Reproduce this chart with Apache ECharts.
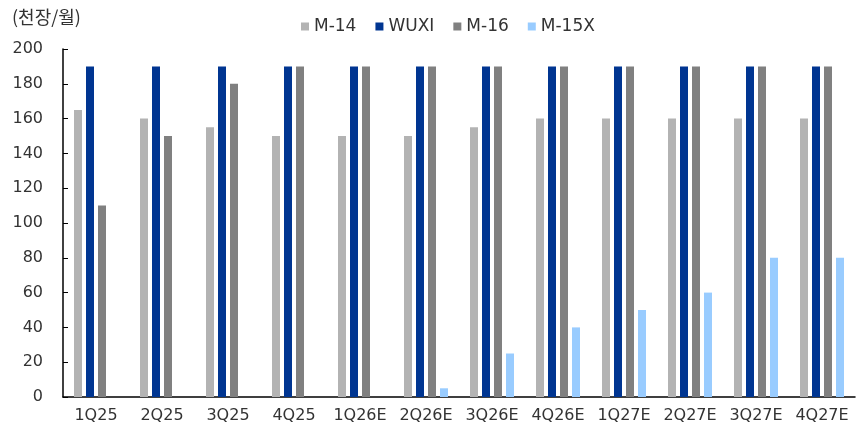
<!DOCTYPE html>
<html>
<head>
<meta charset="utf-8">
<script src="https://cdn.jsdelivr.net/npm/echarts@6/dist/echarts.min.js"></script>
<style>
  html, body { margin: 0; padding: 0; background: #fff; }
  #chart { width: 857px; height: 428px; }
</style>
</head>
<body>
<div id="chart"></div>
<script>
// Quarterly capacity by fab (thousand wafers per month)
const categories = ['1Q25', '2Q25', '3Q25', '4Q25', '1Q26E', '2Q26E', '3Q26E', '4Q26E', '1Q27E', '2Q27E', '3Q27E', '4Q27E'];
const m14 = [165, 160, 155, 150, 150, 150, 155, 160, 160, 160, 160, 160];
const wuxi = [190, 190, 190, 190, 190, 190, 190, 190, 190, 190, 190, 190];
const m16 = [110, 150, 180, 190, 190, 190, 190, 190, 190, 190, 190, 190];
const m15x = [0, 0, 0, 0, 0, 5, 25, 40, 50, 60, 80, 80];
const yTicks = [0, 20, 40, 60, 80, 100, 120, 140, 160, 180, 200];

const numFont = 'DejaVu Sans';
const chart = echarts.init(document.getElementById('chart'));

function barSeries(name, data, color) {
  return {
    name: name,
    type: 'bar',
    data: data,
    barWidth: 8,
    barGap: '50%',
    itemStyle: { color: color },
    emphasis: { disabled: true }
  };
}

chart.setOption({
  animation: false,
  textStyle: { fontFamily: numFont },
  title: {
    text: '(천장/월)',
    left: 7,
    top: 3,
    textStyle: { fontFamily: 'Noto Sans CJK KR', fontSize: 18, fontWeight: 'normal', color: '#333' }
  },
  legend: {
    top: 13,
    left: 296,
    itemWidth: 8,
    itemHeight: 8,
    itemGap: 19,
    icon: 'rect',
    textStyle: { fontFamily: numFont, fontSize: 17, color: '#333' },
    data: ['M-14', 'WUXI', 'M-16', 'M-15X']
  },
  grid: { left: 63, right: 2, top: 49, bottom: 31 },
  xAxis: {
    type: 'category',
    data: categories,
    axisLine: { lineStyle: { color: '#000', width: 1.5 } },
    axisTick: { inside: true, length: 5, lineStyle: { color: '#000' } },
    axisLabel: { interval: 0, fontSize: 16, color: '#333', margin: 11, fontFamily: numFont }
  },
  yAxis: {
    type: 'value',
    min: yTicks[0],
    max: yTicks[yTicks.length - 1],
    interval: 20,
    splitLine: { show: false },
    axisLine: { show: true, lineStyle: { color: '#000', width: 1.5 } },
    axisTick: { show: true, inside: true, length: 5, lineStyle: { color: '#000' } },
    axisLabel: { fontSize: 16, color: '#333', margin: 20, fontFamily: numFont }
  },
  series: [
    barSeries('M-14', m14, '#b3b3b3'),
    barSeries('WUXI', wuxi, '#003591'),
    barSeries('M-16', m16, '#808080'),
    barSeries('M-15X', m15x, '#99ccff')
  ]
});
</script>
</body>
</html>
